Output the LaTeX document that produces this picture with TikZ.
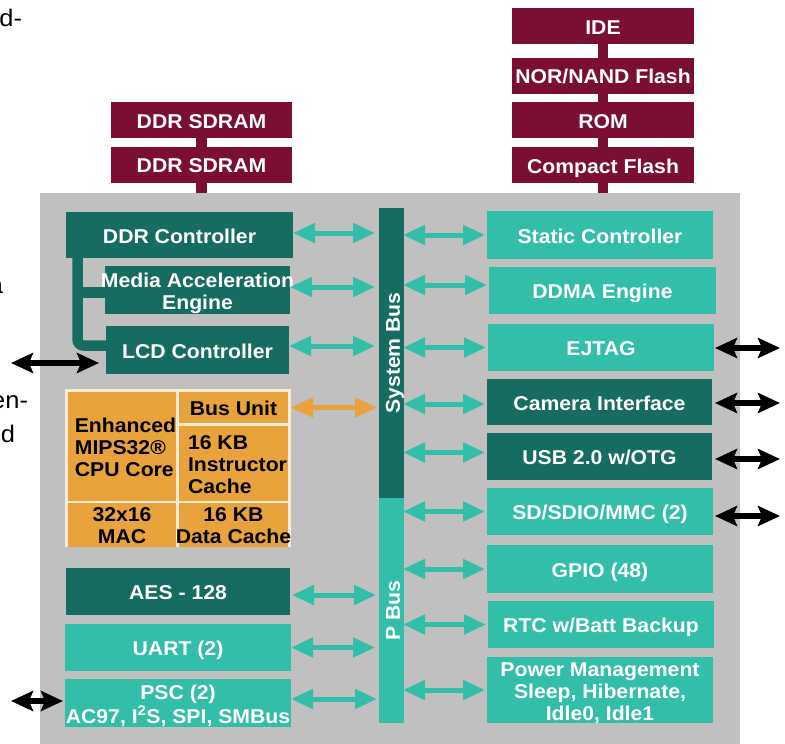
\documentclass[tikz,border=0pt]{standalone}
\usepackage{fontspec}
\setmainfont{Liberation Sans}[FakeStretch=1.06]
\usetikzlibrary{arrows.meta}
\definecolor{maroon}{HTML}{7A0E35}
\definecolor{dteal}{HTML}{176C61}
\definecolor{lteal}{HTML}{33BEAA}
\definecolor{bggray}{HTML}{C0C0C0}
\definecolor{orng}{HTML}{E8A33C}
\definecolor{cream}{HTML}{FCEBD4}
\newcommand\ctr[2][0pt]{\makebox[0pt][c]{\hspace{#1}\raisebox{-4pt}[\height][\depth]{\begin{tabular}{@{}c@{}}#2\end{tabular}}}}
\newcommand\lft[2][0pt]{\makebox[0pt][c]{\hspace{#1}\raisebox{-4pt}[\height][\depth]{\begin{tabular}{@{}l@{}}#2\end{tabular}}}}
\tikzset{
  base/.style={rectangle, inner sep=0pt, outer sep=0pt, font=\fontsize{20}{22}\selectfont\bfseries, text=white},
  mem/.style={base, fill=maroon, minimum height=36pt},
  dk/.style={base, fill=dteal},
  lt/.style={base, fill=lteal},
  cell/.style={base, fill=orng, text=black},
  frag/.style={inner sep=0pt, outer sep=0pt, font=\fontsize{24}{26}\selectfont, text=black},
  tarr/.style={draw=lteal, line width=5pt, {Triangle[length=22pt,width=19pt]}-{Triangle[length=22pt,width=19pt]}},
  oarr/.style={draw=orng, line width=5pt, {Triangle[length=22pt,width=19pt]}-{Triangle[length=22pt,width=19pt]}},
  barr/.style={draw=black, line width=5.5pt, {Stealth[length=22pt,width=20pt,inset=4pt]}-{Stealth[length=22pt,width=20pt,inset=4pt]}},
  memlink/.style={draw=maroon, line width=10.5pt},
  brk/.style={draw=dteal, line width=10.5pt},
}
\begin{document}
\begin{tikzpicture}[x=1pt,y=-1pt]
\useasboundingbox (0,0) rectangle (785,744);
% cut-off text of the surrounding page
\node[frag, anchor=base east] (f1) at (22,27) {d-};
\node[frag, anchor=base east] (f2) at (3,293) {a};
\node[frag, anchor=base east] (f3) at (28,408) {en-};
\node[frag, anchor=base east] (f4) at (15,442) {d};
% chip background
\node[fill=bggray, minimum width=700pt, minimum height=551pt, inner sep=0pt, outer sep=0pt] (chip) at (390,468.5) {};
% external memories
\node[mem, minimum width=181pt] (sd1) at (201.5,120) {\ctr{DDR SDRAM}};
\node[mem, minimum width=181pt] (sd2) at (201.5,164.5) {\ctr{DDR SDRAM}};
\node[mem, minimum width=182pt] (ide) at (603,26) {\ctr{IDE}};
\node[mem, minimum width=182pt] (nor) at (603,75.5) {\ctr{NOR/NAND Flash}};
\node[mem, minimum width=182pt] (rom) at (603,120) {\ctr{ROM}};
\node[mem, minimum width=182pt] (cf) at (603,165) {\ctr{Compact Flash}};
\draw[memlink] (sd1.south) -- (sd2.north);
\draw[memlink] (sd2.south) -- (sd2.south |- chip.north);
\draw[memlink] (ide.south) -- (nor.north);
\draw[memlink] (nor.south) -- (rom.north);
\draw[memlink] (rom.south) -- (cf.north);
\draw[memlink] (cf.south) -- (cf.south |- chip.north);
% buses
\node[dk, rotate=90, minimum width=290pt, minimum height=25pt] (sysbus) at (391.5,353) {\ctr{System Bus}};
\node[lt, rotate=90, minimum width=225pt, minimum height=25pt] (pbus) at (391.5,610.5) {\ctr{P Bus}};
% left blocks
\node[dk, minimum width=227pt, minimum height=46pt] (ddrc) at (179.5,235) {\ctr{DDR Controller}};
\node[dk, minimum width=185pt, minimum height=48pt] (mae) at (197.5,290) {\ctr{Media Acceleration\\Engine}};
\node[dk, minimum width=183pt, minimum height=48pt] (lcd) at (197.5,350) {\ctr{LCD Controller}};
\draw[brk, rounded corners=6pt] ([xshift=11.5pt]ddrc.south west) |- ([yshift=4.5pt]lcd.west);
\draw[brk, transform canvas={yshift=-2.5pt}] (mae.west) -- ([xshift=11.5pt]mae.west -| ddrc.south west);
% CPU
\node[base, fill=cream, minimum width=226pt, minimum height=158pt] (cpu) at (178,468) {};
\node[cell, minimum width=108pt, minimum height=109pt] (core) at (122,446.5) {\lft[7pt]{Enhanced\\MIPS32®\\CPU Core}};
\node[cell, minimum width=109pt, minimum height=31pt] (busu) at (233.5,407.5) {\ctr{Bus Unit}};
\node[cell, minimum width=109pt, minimum height=75pt] (icache) at (233.5,463.5) {\lft[8pt]{16 KB\\Instructor\\Cache}};
\node[cell, minimum width=108pt, minimum height=41pt] (mac) at (122,524.5) {\ctr{32x16\\MAC}};
\node[cell, minimum width=109pt, minimum height=41pt] (dcache) at (233.5,524.5) {\ctr{16 KB\\Data Cache}};
% lower left
\node[dk, minimum width=224pt, minimum height=47pt] (aes) at (178,591.5) {\ctr{AES - 128}};
\node[lt, minimum width=226pt, minimum height=47pt] (uart) at (178,647.5) {\ctr{UART (2)}};
\node[lt, minimum width=226pt, minimum height=48pt] (psc) at (178,703) {\ctr{PSC (2)\\AC97, I\textsuperscript{2}S, SPI, SMBus}};
% right blocks
\node[lt, minimum width=226pt, minimum height=48pt] (stat) at (600,235) {\ctr{Static Controller}};
\node[lt, minimum width=227pt, minimum height=47pt] (ddma) at (602.5,290.5) {\ctr{DDMA Engine}};
\node[lt, minimum width=226pt, minimum height=47pt] (ejtag) at (601,347.5) {\ctr{EJTAG}};
\node[dk, minimum width=225pt, minimum height=46pt] (cam) at (599.5,402) {\ctr{Camera Interface}};
\node[dk, minimum width=225pt, minimum height=47pt] (usb) at (599.5,456.5) {\ctr{USB 2.0 w/OTG}};
\node[lt, minimum width=226pt, minimum height=47pt] (sdio) at (600,511.5) {\ctr{SD/SDIO/MMC (2)}};
\node[lt, minimum width=226pt, minimum height=48pt] (gpio) at (600,569) {\ctr{GPIO (48)}};
\node[lt, minimum width=226pt, minimum height=47pt] (rtc) at (601,624.5) {\ctr{RTC w/Batt Backup}};
\node[lt, minimum width=226pt, minimum height=66pt] (pwr) at (600,690) {\ctr{Power Management\\Sleep, Hibernate,\\Idle0, Idle1}};
% bus connections, left side (sysbus.north / pbus.north = left edge of the rotated bars)
\draw[tarr, transform canvas={yshift=2pt}] (ddrc.east) -- ([xshift=-4pt]ddrc.east -| sysbus.north);
\draw[tarr, transform canvas={yshift=3pt}] (mae.east) -- ([xshift=-4pt]mae.east -| sysbus.north);
\draw[tarr, transform canvas={yshift=4pt}] (lcd.east) -- ([xshift=-4pt]lcd.east -| sysbus.north);
\draw[oarr] (cpu.east |- busu.east) -- ([xshift=-2pt]busu.east -| sysbus.north);
\draw[tarr, transform canvas={yshift=-3.5pt}] ([xshift=2pt]aes.east) -- ([xshift=-3pt]aes.east -| pbus.north);
\draw[tarr] (uart.east) -- ([xshift=-4pt]uart.east -| pbus.north);
\draw[tarr, transform canvas={yshift=4pt}] (psc.east) -- ([xshift=-2pt]psc.east -| pbus.north);
% bus connections, right side (south = right edge of the rotated bars)
\draw[tarr] ([xshift=-1pt]stat.west -| sysbus.south) -- ([xshift=-2pt]stat.west);
\draw[tarr, transform canvas={yshift=5.5pt}] ([xshift=-1pt]ddma.west -| sysbus.south) -- ([xshift=-2pt]ddma.west);
\draw[tarr] ([xshift=-1pt]ejtag.west -| sysbus.south) -- ([xshift=-2pt]ejtag.west);
\draw[tarr, transform canvas={yshift=-2pt}] ([xshift=-1pt]cam.west -| sysbus.south) -- ([xshift=-2pt]cam.west);
\draw[tarr, transform canvas={yshift=4pt}] ([xshift=-1pt]usb.west -| sysbus.south) -- ([xshift=-2pt]usb.west);
\draw[tarr] ([xshift=-1pt]sdio.west -| pbus.south) -- ([xshift=-2pt]sdio.west);
\draw[tarr] ([xshift=-1pt]gpio.west -| pbus.south) -- ([xshift=-2pt]gpio.west);
\draw[tarr] ([xshift=-1pt]rtc.west -| pbus.south) -- ([xshift=-2pt]rtc.west);
\draw[tarr] ([xshift=-1pt]pwr.west -| pbus.south) -- ([xshift=-2pt]pwr.west);
% external I/O
\coordinate (ejo) at (780,348);
\coordinate (camo) at (780,403);
\coordinate (usbo) at (780,459);
\coordinate (sdo) at (780,516);
\coordinate (lcdi) at (11,363);
\coordinate (psci) at (11,701);
\draw[barr] ([xshift=1pt]ejtag.east |- ejo) -- (ejo);
\draw[barr] ([xshift=3pt]cam.east |- camo) -- (camo);
\draw[barr] ([xshift=3pt]usb.east |- usbo) -- (usbo);
\draw[barr] ([xshift=2pt]sdio.east |- sdo) -- (sdo);
\draw[barr] (lcdi) -- ([xshift=-7pt]lcd.west |- lcdi);
\draw[barr] (psci) -- ([xshift=-2pt]psc.west |- psci);
\end{tikzpicture}
\end{document}
